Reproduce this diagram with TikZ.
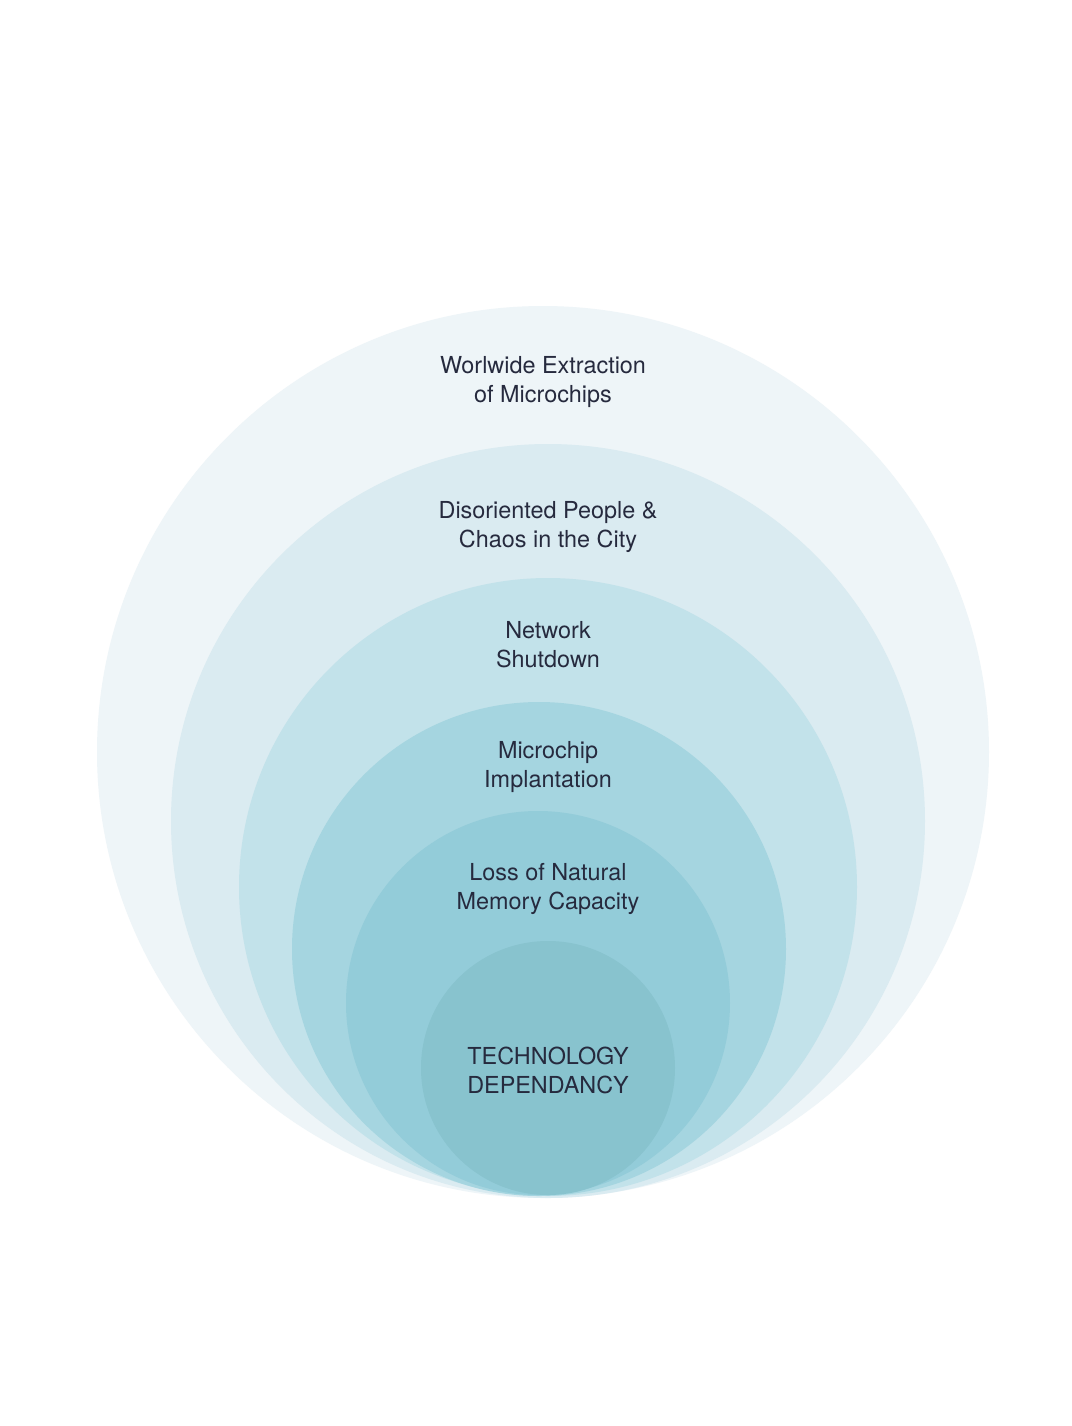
\documentclass[tikz,border=0pt]{standalone}
\usepackage{fontspec}
\setmainfont{TeX Gyre Heros}
\usetikzlibrary{positioning}
\definecolor{ringA}{HTML}{EEF5F8}
\definecolor{ringB}{HTML}{DAEBF1}
\definecolor{ringC}{HTML}{C2E2EA}
\definecolor{ringD}{HTML}{A5D5E0}
\definecolor{ringE}{HTML}{93CCD9}
\definecolor{ringF}{HTML}{88C3CE}
\definecolor{ink}{HTML}{262A3E}
\begin{document}
\begin{tikzpicture}[x=0.5pt, y=-0.5pt, every node/.style={font=\fontsize{11.7}{14.5}\selectfont, text=ink}]
\tikzstyle{lbl}=[align=center, inner sep=0pt]
\useasboundingbox (0,0) rectangle (1072,1426);
\fill[white] (0,0) rectangle (1072,1426);
% nested rings, all touching at the bottom
\fill[ringA] (543,752) circle[radius=446];
\fill[ringB] (548,821) circle[radius=377];
\fill[ringC] (548,887) circle[radius=309];
\fill[ringD] (539,949) circle[radius=247];
\fill[ringE] (538,1003) circle[radius=192];
\fill[ringF] (548,1068) circle[radius=127];
% labels
\node[lbl] (extract) at (543,382) {Worlwide Extraction\\of Microchips};
\node[lbl] (chaos) at (548,527) {Disoriented People \&\\Chaos in the City};
\node[lbl] (shut) at (548,645) {Network\\Shutdown};
\node[lbl] (implant) at (548,767) {Microchip\\Implantation};
\node[lbl] (memory) at (548,889) {Loss of Natural\\Memory Capacity};
\node[lbl] (tech) at (548,1070) {TECHNOLOGY\\DEPENDANCY};
\end{tikzpicture}
\end{document}
